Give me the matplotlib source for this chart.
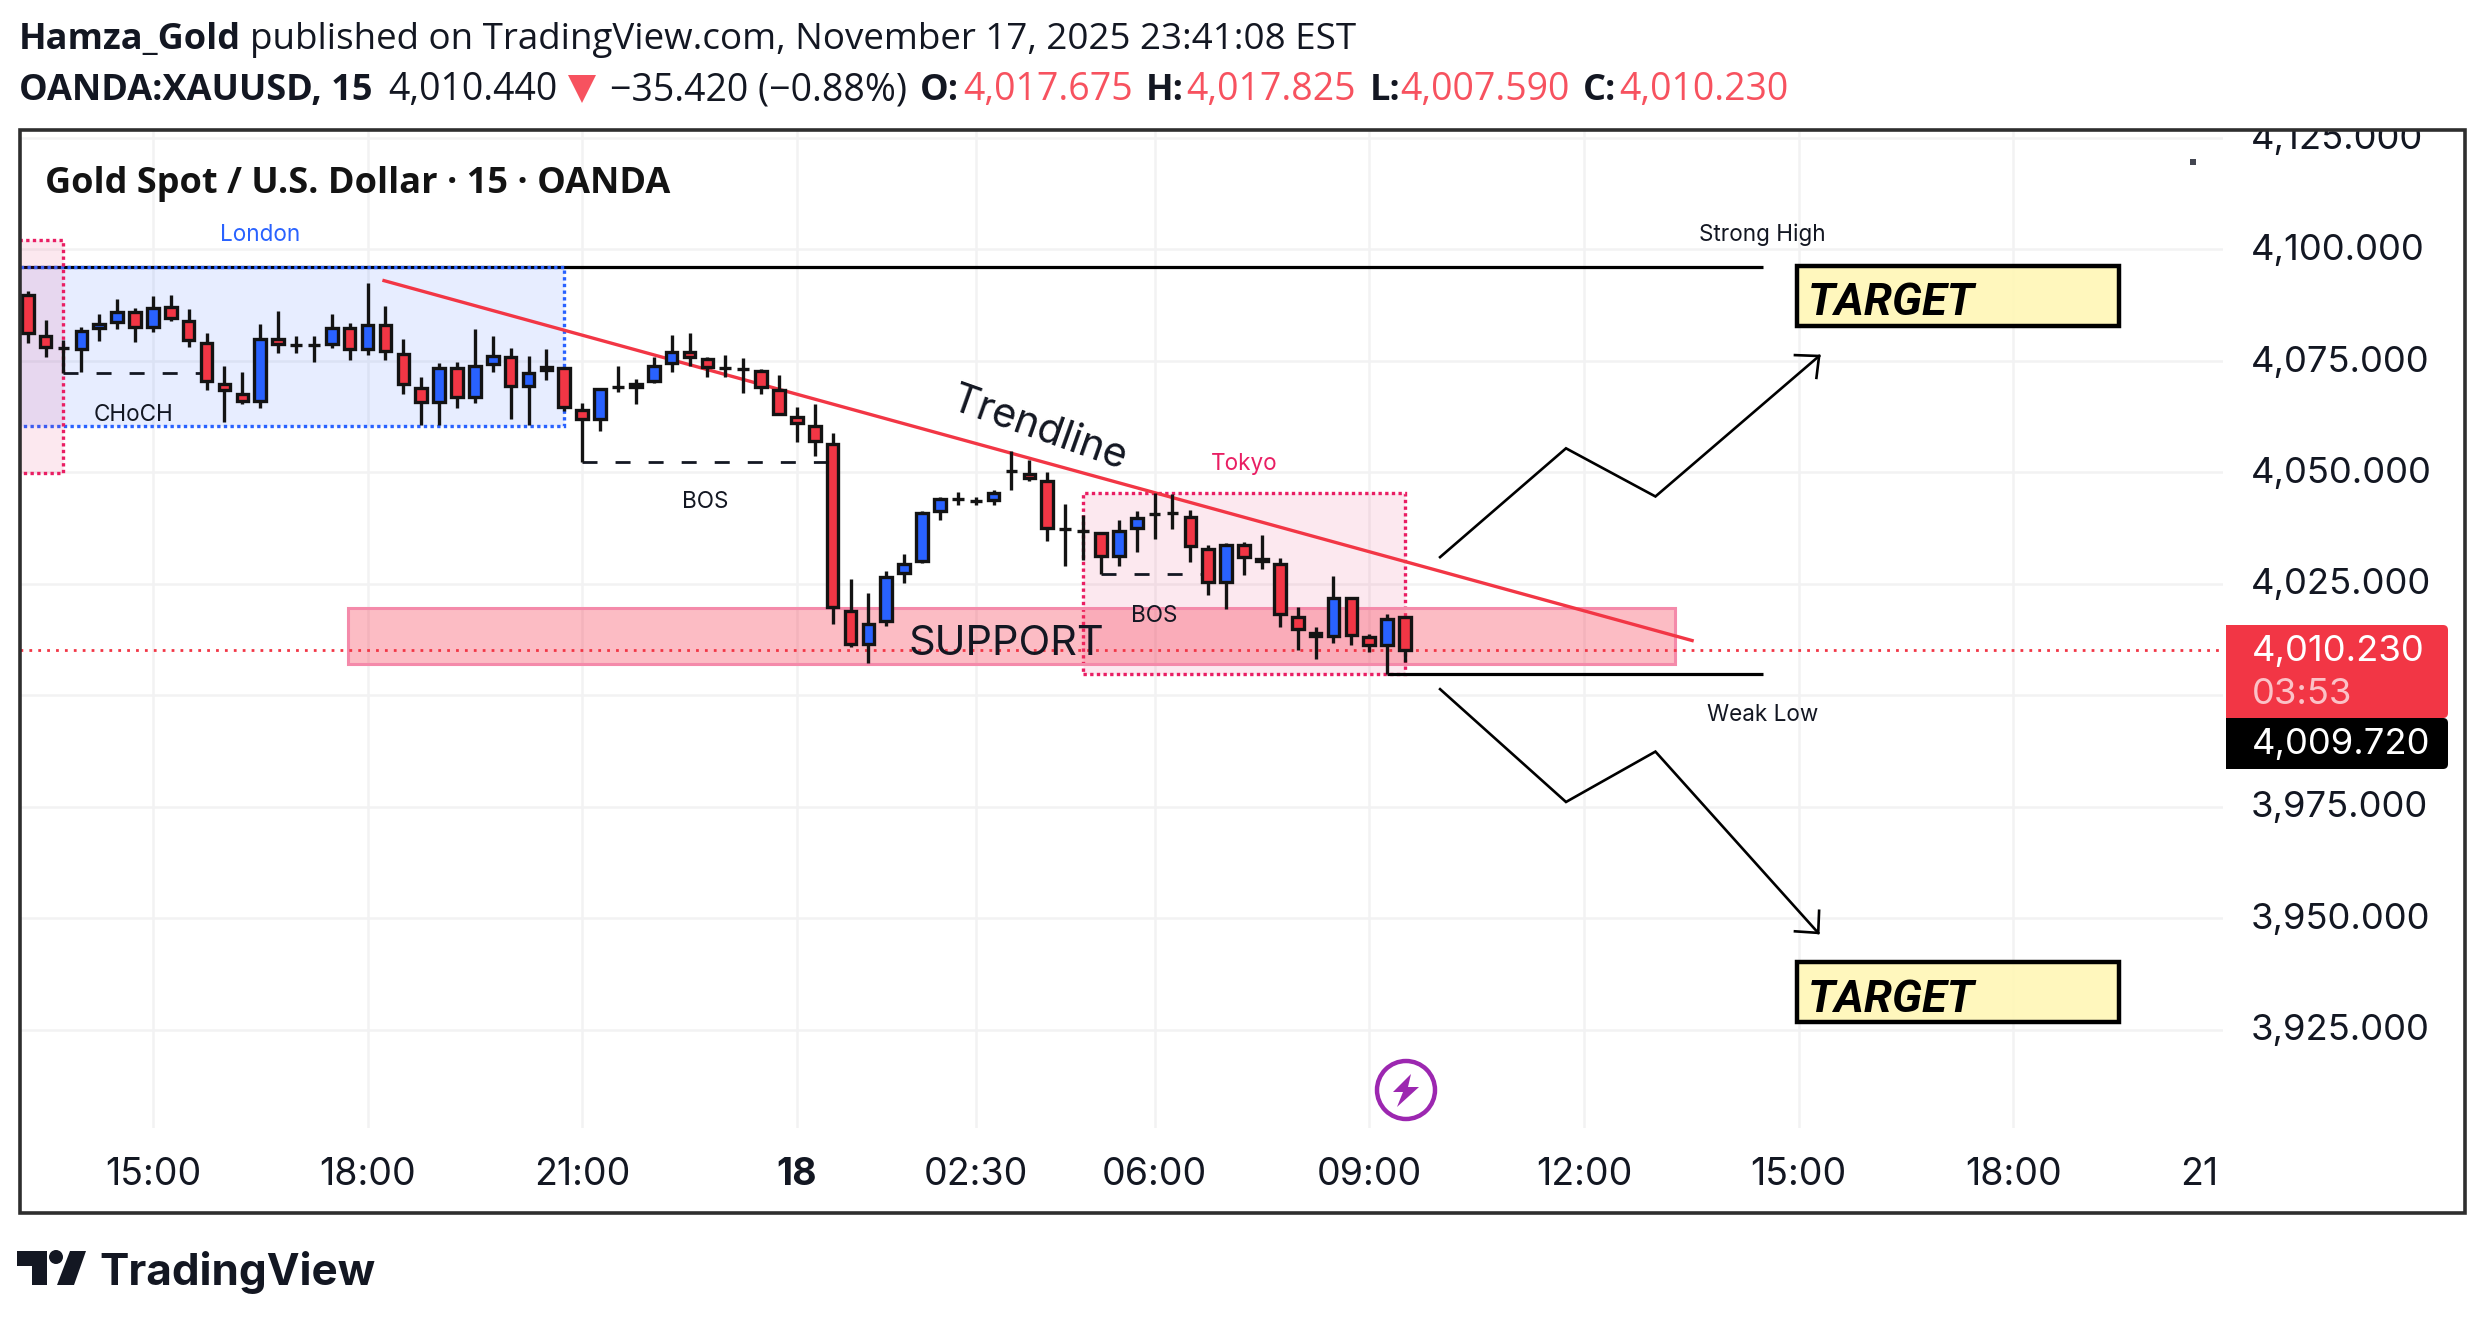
import matplotlib
matplotlib.use('Agg')
import matplotlib.pyplot as plt
import numpy as np
from matplotlib.patches import Rectangle, Circle, Polygon, FancyBboxPatch
from matplotlib.colors import to_rgba
from matplotlib.transforms import Affine2D

W, H = 2484, 1323
RED = '#f23645'
BLUE = '#2962ff'
PINK = '#e91e63'
INK = '#131722'
CANDLE_EDGE = '#131313'

# candles, open/high/low/close for each 15 minute bar
opens = [4089.77, 4080.58, 4077.82, 4077.67, 4082.37, 4083.64, 4086.04, 4082.60, 4087.16, 4083.94,
         4079.01, 4069.82, 4067.58, 4066.00, 4079.91, 4078.49, 4078.49, 4078.71, 4082.37, 4077.74,
         4083.05, 4076.55, 4068.92, 4065.78, 4073.41, 4066.83, 4074.30, 4075.87, 4069.37, 4073.55,
         4073.41, 4063.91, 4061.97, 4069.07, 4069.14, 4070.41, 4074.52, 4076.99, 4075.42, 4073.33,
         4073.10, 4072.73, 4068.47, 4062.49, 4060.40, 4056.36, 4018.92, 4011.52, 4016.68, 4027.44,
         4030.13, 4041.34, 4043.96, 4043.51, 4043.73, 4050.38, 4049.71, 4048.07, 4037.23, 4036.86,
         4036.41, 4031.18, 4037.54, 4040.60, 4040.82, 4040.00, 4032.90, 4025.43, 4033.72, 4030.51,
         4029.46, 4017.58, 4013.99, 4013.40, 4021.84, 4013.17, 4011.38, 4017.675]
highs = [4090.75, 4084.17, 4079.68, 4082.52, 4085.44, 4088.80, 4086.78, 4089.55, 4089.70, 4086.56,
         4081.18, 4073.85, 4072.51, 4083.20, 4086.19, 4080.51, 4080.51, 4085.44, 4083.42, 4092.39,
         4087.31, 4079.83, 4071.31, 4074.45, 4074.68, 4082.08, 4080.51, 4077.82, 4076.10, 4077.59,
         4073.60, 4065.48, 4068.99, 4073.78, 4071.01, 4075.79, 4080.80, 4081.18, 4075.94, 4076.24,
         4075.57, 4073.10, 4071.76, 4064.58, 4065.26, 4058.75, 4026.02, 4022.88, 4027.96, 4031.62,
         4041.41, 4044.40, 4045.60, 4044.55, 4045.97, 4054.79, 4052.78, 4050.01, 4042.83, 4040.44,
         4036.71, 4039.25, 4041.27, 4045.31, 4045.08, 4041.50, 4033.80, 4034.25, 4034.40, 4035.89,
         4030.73, 4019.75, 4015.26, 4026.70, 4022.14, 4013.69, 4018.18, 4017.825]
lows = [4079.09, 4075.95, 4072.21, 4072.58, 4079.53, 4082.23, 4079.31, 4081.55, 4084.02, 4078.19,
        4068.47, 4061.37, 4065.33, 4064.51, 4076.84, 4076.84, 4074.83, 4077.96, 4075.27, 4076.40,
        4075.27, 4067.65, 4060.63, 4060.63, 4064.51, 4065.63, 4072.58, 4061.97, 4060.63, 4070.79,
        4063.84, 4052.25, 4059.35, 4068.10, 4065.41, 4069.96, 4072.58, 4073.93, 4071.46, 4071.46,
        4067.87, 4067.57, 4062.87, 4056.89, 4053.75, 4016.08, 4010.92, 4007.18, 4015.63, 4025.27,
        4029.61, 4039.32, 4042.76, 4042.76, 4042.76, 4046.05, 4048.14, 4034.69, 4029.08, 4030.35,
        4027.22, 4029.01, 4032.23, 4035.14, 4037.39, 4029.99, 4022.51, 4019.45, 4027.07, 4028.42,
        4015.41, 4010.18, 4008.16, 4011.75, 4011.38, 4009.81, 4004.72, 4007.59]
closes = [4081.25, 4078.04, 4077.82, 4081.70, 4083.35, 4086.04, 4082.60, 4086.93, 4084.62, 4079.61,
          4070.49, 4068.47, 4065.93, 4079.91, 4078.79, 4078.49, 4078.49, 4082.37, 4077.74, 4083.05,
          4077.22, 4069.82, 4065.78, 4073.41, 4066.98, 4073.85, 4076.10, 4069.37, 4072.28, 4072.95,
          4064.59, 4061.97, 4068.62, 4069.07, 4069.89, 4073.85, 4076.99, 4075.79, 4073.55, 4073.33,
          4073.10, 4069.14, 4063.09, 4061.07, 4057.03, 4019.89, 4011.52, 4016.00, 4026.54, 4029.46,
          4040.89, 4044.03, 4043.96, 4043.51, 4045.45, 4050.38, 4048.66, 4037.53, 4037.23, 4036.86,
          4031.18, 4036.86, 4039.78, 4040.60, 4040.82, 4033.42, 4025.43, 4033.72, 4031.11, 4030.14,
          4018.33, 4014.89, 4013.25, 4021.84, 4013.62, 4011.38, 4017.13, 4010.23]

price_ticks = [3925, 3950, 3975, 4000, 4025, 4050, 4075, 4100, 4125]
price_labels = ['3,925.000', '3,950.000', '3,975.000', '', '4,025.000', '4,050.000', '4,075.000', '4,100.000', '4,125.000']
time_ticks = [8, 20, 32, 44, 54, 64, 76, 88, 100, 112, 122.4]
time_labels = ['15:00', '18:00', '21:00', '18', '02:30', '06:00', '09:00', '12:00', '15:00', '18:00', '21']

last_price = 4010.23
strong_high = 4096.0
weak_low = 4004.7
trend_x = [20.92, 94.05]
trend_y = [4093.0, 4012.3]
up_x = [79.96, 87.0, 92.0, 101.15]
up_y = [4031.0, 4055.4, 4044.6, 4076.1]
up_head_x = [99.8, 101.15, 101.0]
up_head_y = [4076.3, 4076.1, 4071.2]
down_x = [79.96, 87.0, 92.0, 101.1]
down_y = [4001.4, 3976.1, 3987.4, 3946.75]
down_head_x = [99.8, 101.1, 101.15]
down_head_y = [3947.1, 3946.75, 3951.7]

plt.rcParams['font.family'] = ['Inter', 'DejaVu Sans']

fig = plt.figure(figsize=(W / 100, H / 100), dpi=100, facecolor='white')
ax = fig.add_axes([20 / W, 1 - 1128 / H, (2223 - 20) / W, (1128 - 131) / H])
ax.set_xlim(0.57, 123.73)
ax.set_ylim(3903.0, 4126.55)
for s in ax.spines.values():
    s.set_visible(False)

# grid and axes
ax.set_axisbelow(True)
ax.grid(True, color='#f2f2f3', linewidth=1.8)
ax.yaxis.tick_right()
ax.set_yticks(price_ticks)
ax.set_yticklabels(price_labels, fontsize=26.2, color=INK)
ax.set_xticks(time_ticks)
ax.set_xticklabels(time_labels, fontsize=27, color=INK)
ax.tick_params(axis='both', length=0)
ax.tick_params(axis='y', pad=20)
ax.tick_params(axis='x', pad=21)
ax.get_xticklabels()[3].set_fontweight('bold')
ax.xaxis.get_major_ticks()[-1].gridline.set_visible(False)
# price labels sit a touch above their gridlines
for lab in ax.get_yticklabels():
    lab.set_transform(lab.get_transform() + Affine2D().translate(0, 2.4))

# session boxes
ax.add_patch(Rectangle((0, 4060.5), 31, 35.5, facecolor=to_rgba(BLUE, 0.11), edgecolor=BLUE,
                       linewidth=2.4, linestyle=(0, (1, 1)), zorder=2))
ax.add_patch(Rectangle((0, 4049.8), 3, 52.3, facecolor=to_rgba(PINK, 0.1), edgecolor=PINK,
                       linewidth=2.4, linestyle=(0, (1, 1)), zorder=2))
ax.add_patch(Rectangle((60, 4004.7), 18, 40.6, facecolor=to_rgba(PINK, 0.1), edgecolor=PINK,
                       linewidth=2.4, linestyle=(0, (1, 1)), zorder=2))
ax.add_patch(Rectangle((18.93, 4007.0), 74.17, 12.6, facecolor=to_rgba('#f6344c', 0.33),
                       edgecolor='#f48aaa', linewidth=2.2, zorder=2))

# price and structure lines
ax.axhline(last_price, color=RED, linewidth=2, linestyle=(0, (1, 2.2)), zorder=3)
ax.plot([0, 98], [strong_high, strong_high], color='black', linewidth=2.3, zorder=1.9,
        solid_capstyle='butt')
ax.plot([77, 98], [weak_low, weak_low], color='black', linewidth=2.3, zorder=3,
        solid_capstyle='butt')
ax.plot(trend_x, trend_y, color=RED, linewidth=2.4, zorder=3)
for xs, level in [([3, 11], 4072.2), ([32, 46], 4052.25), ([61, 67], 4027.15)]:
    ax.plot(xs, [level, level], color=INK, linewidth=2, linestyle=(0, (5.4, 6.5)), zorder=3)

# candles
idx = np.arange(1, len(opens) + 1)
o = np.array(opens)
c = np.array(closes)
colors = [BLUE if b > a else RED for a, b in zip(opens, closes)]
ax.vlines(idx, lows, highs, color=CANDLE_EDGE, linewidth=2.4, zorder=4)
ax.bar(idx, c - o, bottom=o, width=0.65, color=colors, edgecolor=CANDLE_EDGE, linewidth=2.4, zorder=5)

# forecast arrows
for xs, ys in [(up_x, up_y), (up_head_x, up_head_y), (down_x, down_y), (down_head_x, down_head_y)]:
    ax.plot(xs, ys, color='black', linewidth=1.9, zorder=6, solid_joinstyle='miter')

# drawing labels
for txt, x, y, col in [('London', 14, 4103.9, BLUE), ('Strong High', 98, 4103.9, INK),
                       ('Weak Low', 98, 3996.1, INK), ('CHoCH', 6.89, 4063.5, INK),
                       ('BOS', 38.9, 4044.0, INK), ('BOS', 64, 4018.4, INK), ('Tokyo', 69, 4052.5, PINK)]:
    ax.text(x, y, txt, ha='center', va='center_baseline', fontsize=16.2, color=col, zorder=7)
ax.text(50.25, 4012.5, 'SUPPORT', ha='left', va='center_baseline', fontsize=29.9, color=INK, zorder=7)
ax.text(57.6, 4060.6, 'Trendline', ha='center', va='center_baseline', rotation=-19.5,
        rotation_mode='anchor', fontsize=29.5, color=INK, zorder=7)

# target boxes
for y0, y1, ty in [(4082.9, 4096.2, 4088.9), (3926.7, 3940.2, 3932.8)]:
    ax.add_patch(Rectangle((99.9, y0), 18, y1 - y0, facecolor=to_rgba('#fff7b8', 0.92),
                           edgecolor='black', linewidth=3.2, zorder=6))
    ax.text(100.5, ty, 'TARGET', ha='left', va='center_baseline', fontsize=32.7, fontweight='bold',
            fontstyle='italic', family='Roboto', color='black', zorder=7)

# page furniture, in pixels
page = fig.add_axes([0, 0, 1, 1], zorder=5)
page.set_xlim(0, W)
page.set_ylim(H, 0)
page.axis('off')
page.add_patch(Rectangle((0, 106), W, 24, facecolor='white', edgecolor='none'))
page.add_patch(Rectangle((20, 130), 2445, 1083, fill=False, edgecolor='#2e2e2e', linewidth=2.6))

header = [('Hamza_Gold', 19, 49, INK, 'bold', 26),
          ('published on TradingView.com, November 17, 2025 23:41:08 EST', 250, 49, INK, 'normal', 26.5),
          ('OANDA:XAUUSD, 15', 19, 100, INK, 'bold', 26),
          ('4,010.440', 388, 100, INK, 'normal', 27),
          ('\u221235.420 (\u22120.88%)', 610, 100, INK, 'normal', 27),
          ('O:', 920, 100, INK, 'bold', 26),
          ('4,017.675', 963, 100, '#f7525f', 'normal', 27),
          ('H:', 1146, 100, INK, 'bold', 26),
          ('4,017.825', 1186, 100, '#f7525f', 'normal', 27),
          ('L:', 1370, 100, INK, 'bold', 26),
          ('4,007.590', 1400, 100, '#f7525f', 'normal', 27),
          ('C:', 1583, 100, INK, 'bold', 26),
          ('4,010.230', 1619, 100, '#f7525f', 'normal', 27)]
for txt, x, y, col, wt, size in header:
    page.text(x, y, txt, fontsize=size, family='Open Sans', color=col, fontweight=wt, va='baseline')
page.add_patch(Polygon([(568, 75), (596, 75), (582, 103)], facecolor='#f7525f', edgecolor='none'))
page.text(45, 193, 'Gold Spot / U.S. Dollar \u00b7 15 \u00b7 OANDA', fontsize=26, family='Open Sans',
          fontweight='bold', color='#131313', va='baseline')

# price badges
page.add_patch(FancyBboxPatch((2234, 630), 209, 83, boxstyle='round,pad=5,rounding_size=5',
                              facecolor=RED, edgecolor='none'))
page.add_patch(Rectangle((2226, 625), 20, 93, facecolor=RED, edgecolor='none'))
page.add_patch(FancyBboxPatch((2234, 723), 209, 41, boxstyle='round,pad=5,rounding_size=5',
                              facecolor='black', edgecolor='none'))
page.add_patch(Rectangle((2226, 718), 20, 51, facecolor='black', edgecolor='none'))
page.text(2252, 648, '4,010.230', fontsize=26.2, color='white', va='center_baseline')
page.text(2252, 691, '03:53', fontsize=26.2, color='#fbc2c7', va='center_baseline')
page.text(2252, 741, '4,009.720', fontsize=26.2, color='white', va='center_baseline')

# small marker top right
page.add_patch(Rectangle((2190, 159), 6, 6, facecolor='#434651', edgecolor='none'))

# lightning badge
page.add_patch(Circle((1406, 1090), 29, fill=False, edgecolor='#9c27b0', linewidth=3.2))
page.add_patch(Polygon([(1411, 1074), (1393, 1092), (1403, 1092), (1397, 1107), (1419, 1087), (1408, 1087)],
                       facecolor='#9c27b0', edgecolor='none'))

# TradingView logo
page.add_patch(Polygon([(17, 1251), (47, 1251), (47, 1285), (32, 1285), (32, 1266), (17, 1266)],
                       facecolor=INK, edgecolor='none'))
page.add_patch(Circle((56, 1257), 7, facecolor=INK, edgecolor='none'))
page.add_patch(Polygon([(70, 1251), (86, 1251), (74, 1285), (57, 1285)], facecolor=INK, edgecolor='none'))
page.text(99, 1285, 'TradingView', fontsize=31.7, fontweight='bold', color=INK, va='baseline')

fig.savefig('out.png', dpi=100)
